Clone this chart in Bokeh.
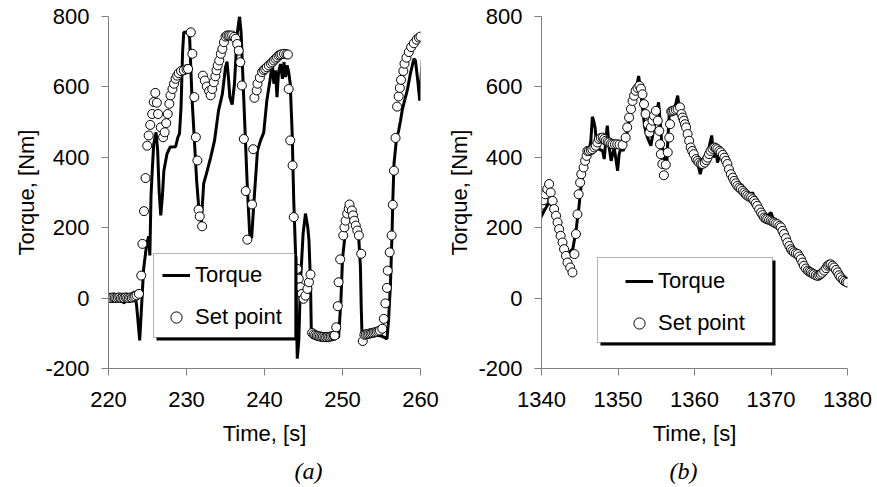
from bokeh.plotting import figure
from bokeh.layouts import row
from bokeh.models import (Range1d, FixedTicker, Legend, LegendItem, BoxAnnotation, Title)
from bokeh.embed import file_html
from bokeh.resources import INLINE

# ---------------- data: panel (a) ----------------
sp_a_t = [220.0, 220.2, 220.4, 220.6, 220.8, 221.0, 221.2, 221.4, 221.6, 221.8, 222.0, 222.2, 222.4, 222.6,
          222.8, 223.0, 223.2, 223.4, 223.6, 223.9, 224.2, 224.35, 224.55, 224.75, 224.96, 225.15, 225.35,
          225.6, 225.8, 226.0, 226.2, 226.35, 226.7, 227.0, 227.2, 227.4, 227.6, 227.8, 227.95, 228.2, 228.4,
          228.6, 228.8, 229.0, 229.3, 229.65, 230.0, 230.2, 230.55, 230.75, 231.0, 231.2, 231.4, 231.55,
          231.7, 232.0, 232.1, 232.35, 232.6, 232.9, 233.1, 233.3, 233.5, 233.7, 233.85, 234.0, 234.2, 234.4,
          234.6, 234.8, 235.0, 235.2, 235.4, 235.6, 235.85, 236.1, 236.3, 236.5, 236.7, 236.9, 237.1, 237.35,
          237.6, 237.8, 238.4, 238.55, 238.7, 239.0, 239.1, 239.4, 239.7, 239.9, 240.1, 240.3, 240.55, 240.8,
          241.0, 241.2, 241.4, 241.6, 241.8, 242.0, 242.2, 242.5, 242.8, 243.0, 243.1, 243.3, 243.6, 243.75,
          244.2, 244.4, 244.6, 244.8, 245.0, 245.25, 245.5, 245.7, 245.9, 246.1, 246.3, 246.5, 246.7, 246.9,
          247.1, 247.3, 247.5, 247.7, 247.9, 248.1, 248.3, 248.5, 248.7, 248.9, 249.0, 249.2, 249.4, 249.5,
          249.7, 250.1, 250.25, 250.4, 250.6, 250.8, 250.9, 251.2, 251.35, 251.5, 251.7, 251.9, 252.1, 252.4,
          252.6, 252.8, 253.0, 253.2, 253.4, 253.6, 253.8, 254.0, 254.2, 254.4, 254.6, 254.8, 255.1, 255.3,
          255.5, 255.7, 255.8, 256.05, 256.3, 256.45, 256.6, 256.8, 257.0, 257.2, 257.35, 257.5, 257.8,
          257.95, 258.2, 258.5, 258.8, 259.15, 259.5, 259.8, 260.0]
sp_a_v = [0, 1, 0, 2, 1, 0, 1, 2, 0, 1, 0, 2, 1, 0,
          2, 1, 3, 5, 8, 12, 64, 154, 247, 341, 433, 462, 492,
          523, 557, 583, 555, 523, 485, 457, 471, 497, 523, 552, 576, 594, 609,
          623, 632, 639, 645, 647, 650, 651, 755, 694, 571, 457, 391, 251,
          232, 204, 632, 618, 601, 588, 576, 594, 613, 630, 647, 661, 675, 694,
          708, 727, 743, 746, 746, 746, 746, 742, 737, 722, 703, 670, 604, 452,
          304, 166, 266, 423, 569, 590, 609, 626, 642, 648, 651, 656, 661, 666,
          670, 675, 680, 684, 689, 691, 693, 694, 693, 692, 594, 448, 377, 230,
          83, 55, 31, 12, -2, 7, 26, 45, 67, -99, -103, -105, -107, -108,
          -109, -110, -110, -111, -111, -110, -110, -109, -108, -107, -106, -83, -23, 45,
          110, 178, 201, 220, 240, 254, 266, 249, 235, 220, 206, 192, 178, 126,
          -122, -104, -103, -102, -101, -100, -99, -98, -97, -96, -94, -92, -87, -59,
          -15, 29, 78, 130, 178, 265, 362, 455, 544, 573, 597, 620, 645,
          666, 683, 699, 713, 724, 734, 740, 743]

tq_a_t = [220.0, 220.5, 221.0, 221.5, 222.0, 222.3, 222.7, 223.0, 223.3, 223.6, 223.8, 224.0, 224.2, 224.5,
          224.9, 225.15, 225.3, 225.45, 225.6, 225.8, 226.1, 226.3, 226.5, 226.7, 226.9, 227.1, 227.5, 227.9,
          228.6, 228.9, 229.1, 229.3, 229.5, 229.65, 230.1, 230.4, 230.7, 231.3, 231.6, 231.9, 232.2, 232.55,
          233.1, 233.6, 234.1, 234.6, 235.0, 235.2, 235.4, 235.55, 235.85, 236.15, 236.5, 236.8, 237.0,
          237.35, 237.8, 238.1, 238.35, 238.6, 239.1, 239.5, 239.9, 240.3, 240.7, 241.0, 241.2, 241.4, 241.6,
          241.8, 242.05, 242.3, 242.5, 242.7, 242.9, 243.1, 243.3, 243.55, 243.75, 243.97, 244.1, 244.2,
          244.4, 244.6, 244.95, 245.25, 245.55, 245.7, 245.9, 246.0, 246.3, 247.0, 247.5, 248.0, 248.5,
          249.2, 249.5, 249.8, 250.0, 250.3, 250.6, 250.9, 251.2, 251.7, 252.1, 252.3, 252.4, 252.5, 253.0,
          253.5, 254.0, 254.5, 255.0, 255.3, 255.7, 255.9, 256.15, 256.35, 256.45, 256.6, 256.9, 257.2,
          257.45, 257.65, 257.85, 258.3, 258.7, 259.15, 259.35, 259.65, 259.9, 260.2, 260.55, 260.7]
tq_a_v = [0, 2, -3, 4, -15, 5, -5, 10, 18, -20, -70, -120, -40, 83,
          154, 175, 121, 290, 360, 438, 471, 420, 300, 235, 287, 362, 410, 429,
          430, 457, 467, 542, 700, 755, 755, 741, 571, 334, 249, 216, 325, 353,
          400, 448, 532, 580, 656, 672, 620, 571, 550, 609, 751, 800, 755,
          561, 315, 183, 170, 258, 419, 448, 470, 561, 618, 665, 609, 647, 571,
          642, 665, 623, 670, 628, 661, 642, 609, 467, 277, 135, -54, -172,
          -120, 40, 183, 240, 201, 164, 40, -92, -100, -102, -104, -105, -106,
          -111, -111, -7, 112, 173, 249, 268, 254, 216, 164, 88, -26, -101, -100,
          -102, -104, -106, -108, -111, -116, -64, 40, 183, 277, 381, 448, 476,
          505, 533, 552, 590, 637, 680, 675, 618, 561, 675, 713, 660]

# ---------------- data: panel (b) ----------------
sp_b_t = [1340.0, 1340.25, 1340.5, 1340.75, 1341.0, 1341.2, 1341.45, 1341.65, 1341.9, 1342.1, 1342.3, 1342.5,
          1342.75, 1342.95, 1343.2, 1343.4, 1343.75, 1344.05, 1344.3, 1344.5, 1344.7, 1344.85, 1345.05,
          1345.2, 1345.5, 1345.7, 1345.9, 1346.0, 1346.2, 1346.45, 1346.65, 1346.9, 1347.1, 1347.3, 1347.5,
          1347.75, 1348.0, 1348.2, 1348.4, 1348.65, 1348.85, 1349.1, 1349.3, 1349.6, 1349.9, 1350.2, 1350.6,
          1351.0, 1351.2, 1351.45, 1351.7, 1351.9, 1352.1, 1352.3, 1352.55, 1352.8, 1353.0, 1353.2, 1353.4,
          1353.6, 1353.9, 1354.1, 1354.3, 1354.5, 1354.7, 1354.95, 1355.2, 1355.4, 1355.5, 1355.6, 1355.8,
          1356.0, 1356.25, 1356.5, 1356.7, 1356.8, 1356.95, 1357.1, 1357.3, 1357.55, 1357.8, 1358.1, 1358.3,
          1358.45, 1358.6, 1358.75, 1358.9, 1359.1, 1359.3, 1359.5, 1359.7, 1359.9, 1360.2, 1360.4, 1360.6,
          1360.85, 1361.05, 1361.35, 1361.55, 1361.7, 1361.9, 1362.1, 1362.35, 1362.6, 1362.8, 1363.0,
          1363.25, 1363.45, 1363.7, 1363.9, 1364.1, 1364.3, 1364.5, 1364.75, 1365.0, 1365.2, 1365.4, 1365.6,
          1365.85, 1366.05, 1366.3, 1366.5, 1366.7, 1366.9, 1367.15, 1367.4, 1367.6, 1367.8, 1368.0, 1368.2,
          1368.45, 1368.7, 1368.9, 1369.1, 1369.3, 1369.5, 1369.75, 1370.0, 1370.2, 1370.4, 1370.6, 1370.85,
          1371.1, 1371.3, 1371.5, 1371.7, 1371.95, 1372.15, 1372.4, 1372.6, 1372.8, 1373.0, 1373.25, 1373.5,
          1373.7, 1373.9, 1374.1, 1374.3, 1374.55, 1374.8, 1375.0, 1375.2, 1375.4, 1375.6, 1375.85, 1376.1,
          1376.3, 1376.5, 1376.7, 1376.95, 1377.2, 1377.4, 1377.6, 1377.8, 1378.05, 1378.25, 1378.5, 1378.7,
          1378.9, 1379.1, 1379.35, 1379.55, 1379.8, 1380.0]
sp_b_v = [265, 278, 295, 310, 324, 300, 276, 253, 234, 215, 196, 177,
          158, 139, 120, 101, 87, 73, 125, 182, 238, 295, 328,
          352, 371, 390, 404, 418, 418, 420, 423, 428, 433, 442, 452,
          455, 456, 452, 447, 444, 442, 439, 437, 437, 437, 436, 435,
          456, 485, 513, 537, 560, 575, 589, 597, 603, 595, 579, 551,
          523, 494, 470, 485, 504, 518, 532, 504, 475, 437, 409, 381,
          349, 379, 414, 456, 494, 530, 532, 533, 535, 537, 542, 523,
          513, 504, 494, 485, 466, 447, 428, 418, 409, 395, 390, 385,
          382, 381, 385, 392, 399, 409, 418, 424, 428, 426, 423,
          418, 414, 407, 399, 390, 381, 366, 352, 342, 333, 326, 319,
          314, 310, 305, 300, 295, 291, 288, 286, 281, 276, 269, 262,
          252, 243, 236, 229, 226, 224, 222, 220, 217, 215, 212, 210,
          205, 201, 191, 182, 170, 158, 148, 139, 134, 130, 127, 125,
          118, 111, 101, 92, 84, 78, 75, 73, 70, 68, 65, 63,
          65, 68, 72, 78, 85, 92, 95, 96, 92, 87, 80, 73,
          65, 59, 53, 49, 46, 44]

tq_b_t = [1339.5, 1339.9, 1340.35, 1340.8, 1341.2, 1341.6, 1342.2, 1342.8, 1343.4, 1343.8, 1344.1, 1344.5,
          1344.9, 1345.15, 1345.6, 1345.9, 1346.2, 1346.45, 1346.65, 1346.8, 1347.0, 1347.2, 1347.5, 1348.0,
          1348.2, 1348.4, 1348.6, 1348.85, 1349.1, 1349.3, 1349.5, 1349.7, 1349.95, 1350.15, 1350.4, 1350.7,
          1351.0, 1351.3, 1351.7, 1352.1, 1352.45, 1352.7, 1352.9, 1353.2, 1353.5, 1353.85, 1354.3, 1354.7,
          1355.1, 1355.3, 1355.5, 1355.7, 1355.95, 1356.15, 1356.4, 1356.55, 1356.7, 1356.9, 1357.25,
          1357.55, 1357.8, 1358.0, 1358.2, 1358.6, 1359.1, 1359.5, 1359.95, 1360.4, 1360.75, 1361.05, 1361.5,
          1361.9, 1362.25, 1362.5, 1362.8, 1363.0, 1363.45, 1363.9, 1364.5, 1365.0, 1365.6, 1366.2, 1366.5,
          1367.1, 1367.6, 1368.0, 1368.7, 1369.3, 1370.0, 1370.4, 1371.0, 1371.5, 1372.2, 1372.6, 1373.3,
          1373.9, 1374.5, 1375.2, 1376.0, 1376.6, 1377.2, 1377.8, 1378.4, 1379.0, 1379.8]
tq_b_v = [182, 229, 248, 265, 270, 245, 200, 160, 120, 134, 140, 191,
          260, 314, 371, 414, 418, 447, 515, 505, 485, 437, 423, 418,
          395, 447, 490, 428, 390, 409, 428, 399, 362, 409, 428, 418,
          447, 485, 532, 570, 603, 631, 598, 541, 485, 456, 433, 485,
          532, 556, 504, 447, 409, 381, 390, 466, 523, 532, 537,
          551, 575, 542, 532, 505, 466, 418, 390, 385, 352, 381, 399,
          428, 462, 399, 428, 385, 414, 399, 366, 340, 320, 322, 305,
          290, 300, 268, 245, 230, 243, 218, 210, 190, 150, 134, 132,
          108, 83, 78, 65, 70, 84, 95, 82, 62, 49]

y_ticks = [-200, 0, 200, 400, 600, 800]
y_tick_labels = {-200: "-200", 0: "0", 200: "200", 400: "400", 600: "600", 800: "800"}
x_ticks_a = [220, 230, 240, 250, 260]
x_ticks_b = [1340, 1350, 1360, 1370, 1380]

SANS = "Liberation Sans"
SERIF = "Liberation Serif"
AXIS_GRAY = "#808080"


def make_panel(t_sp, v_sp, t_tq, v_tq, x_ticks, fw, left, right, legend_xy, box, caption, cap_off):
    p = figure(frame_width=fw, frame_height=352, min_border_left=left, min_border_right=right,
               min_border_top=16, min_border_bottom=119, output_backend="svg", toolbar_location=None,
               x_range=Range1d(x_ticks[0], x_ticks[-1]), y_range=Range1d(y_ticks[0], y_ticks[-1]))
    p.outline_line_color = None
    p.grid.visible = False
    p.background_fill_color = "white"
    p.border_fill_color = "white"

    for ax in (p.xaxis[0], p.yaxis[0]):
        ax.axis_line_color = AXIS_GRAY
        ax.major_tick_line_color = AXIS_GRAY
        ax.minor_tick_line_color = None
        ax.major_tick_in = 0
        ax.major_tick_out = 7
        ax.major_label_text_font = SANS
        ax.major_label_text_font_size = "22px"
        ax.major_label_text_color = "black"
        ax.axis_label_text_font = SANS
        ax.axis_label_text_font_size = "22px"
        ax.axis_label_text_font_style = "normal"
        ax.axis_label_text_color = "black"
    p.xaxis.ticker = FixedTicker(ticks=x_ticks)
    p.yaxis.ticker = FixedTicker(ticks=y_ticks)
    p.yaxis.major_label_overrides = y_tick_labels
    p.xaxis.axis_label = "Time, [s]"
    p.yaxis.axis_label = "Torque, [Nm]"
    p.xaxis.major_label_standoff = 16
    p.yaxis.major_label_standoff = 12
    p.xaxis.axis_label_standoff = 11
    p.yaxis.axis_label_standoff = 3

    ln = p.line(t_tq, v_tq, line_color="black", line_width=3)
    sc = p.scatter(t_sp, v_sp, marker="circle", size=9, fill_color="white", line_color="black", line_width=1)

    bl, br, bb, bt = box
    shadow = BoxAnnotation(left=bl + 3, right=br + 3, bottom=bb - 3, top=bt - 3,
                           left_units="screen", right_units="screen", top_units="screen", bottom_units="screen",
                           fill_color="black", fill_alpha=1, line_color=None)
    frame_box = BoxAnnotation(left=bl, right=br, bottom=bb, top=bt,
                              left_units="screen", right_units="screen", top_units="screen", bottom_units="screen",
                              fill_color="white", fill_alpha=1, line_color="black", line_width=1)
    p.add_layout(shadow)
    p.add_layout(frame_box)

    legend = Legend(items=[LegendItem(label="Torque", renderers=[ln]),
                           LegendItem(label="Set point", renderers=[sc])],
                    location=legend_xy, padding=0, margin=0, spacing=10,
                    glyph_height=32, glyph_width=28, label_height=32, label_standoff=5,
                    label_text_font=SANS, label_text_font_size="22px", label_text_color="black",
                    background_fill_alpha=0, border_line_alpha=0)
    p.add_layout(legend)

    cap = Title(text=caption, align="left", offset=cap_off, standoff=14,
                text_font=SERIF, text_font_style="italic", text_font_size="24px", text_color="black")
    p.add_layout(cap, "below")
    return p


pa = make_panel(sp_a_t, sp_a_v, tq_a_t, tq_a_v, x_ticks_a, 312, 108, 20,
                (54, 35), (45, 186, 31, 115), "(a)", 186)
pb = make_panel(sp_b_t, sp_b_v, tq_b_t, tq_b_v, x_ticks_b, 306, 101, 30,
                (84, 29), (56, 231, 26, 111), "(b)", 128)

layout = row(pa, pb)
open("out.html", "w").write(file_html(layout, INLINE))
